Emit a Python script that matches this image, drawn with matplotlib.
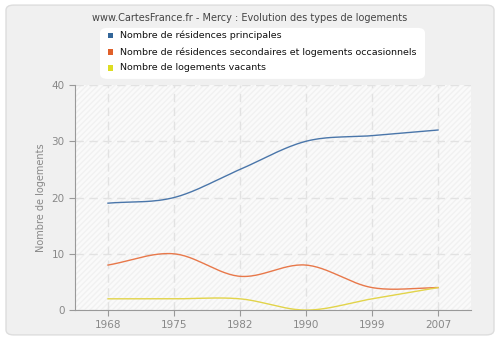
import numpy as np
import matplotlib
matplotlib.use("Agg")
from matplotlib import pyplot as plt
from matplotlib.patches import FancyBboxPatch, Rectangle

years = ['1968', '1975', '1982', '1990', '1999', '2007']
principales = [19, 20, 25, 30, 31, 32]
secondaires = [8, 10, 6, 8, 4, 4]
vacants = [2, 2, 2, 0, 2, 4]

labels = ['Nombre de résidences principales',
          'Nombre de résidences secondaires et logements occasionnels',
          'Nombre de logements vacants']
line_colors = ['#4a76aa', '#e8784a', '#e2d44a']
box_colors = ['#336699', '#e0602a', '#dddd22']


def smooth(vals, n=30):
    # catmull-rom style curve through the points (categorical x)
    y = np.array(vals, dtype=float)
    m = np.zeros_like(y)
    m[1:-1] = (y[2:] - y[:-2]) / 2
    m[0] = (y[1] - y[0])
    m[-1] = (y[-1] - y[-2])
    xs, ys = [], []
    for i in range(len(y) - 1):
        t = np.linspace(0, 1, n)
        h00 = 2*t**3 - 3*t**2 + 1
        h10 = t**3 - 2*t**2 + t
        h01 = -2*t**3 + 3*t**2
        h11 = t**3 - t**2
        xs.append(i + t)
        ys.append(h00*y[i] + h10*m[i] + h01*y[i+1] + h11*m[i+1])
    return np.concatenate(xs), np.concatenate(ys)


fig = plt.figure(figsize=(5, 3.4), dpi=100)
fig.patch.set_facecolor('#ffffff')
bg = FancyBboxPatch((0.012, 0.015), 0.976, 0.97, boxstyle='round,pad=0,rounding_size=0.015',
                    transform=fig.transFigure, facecolor='#f0f0f0', edgecolor='#dddddd', lw=1, zorder=-5)
fig.patches.append(bg)

ax = fig.add_axes([0.15, 0.088, 0.792, 0.662])
ax.set_facecolor('#fafafa')
ax.add_patch(Rectangle((0, 0), 1, 1, transform=ax.transAxes, facecolor='none',
                       edgecolor='#f1f1f1', hatch='//////', lw=0, zorder=0))

for vals, c in zip([principales, secondaires, vacants], line_colors):
    sx, sy = smooth(vals)
    ax.plot(sx, sy, color=c, lw=1, zorder=3)

ax.set_xlim(-0.5, 5.5)
ax.set_ylim(0, 40)
ax.set_xticks(range(len(years)))
ax.set_xticklabels(years)
ax.set_yticks([0, 10, 20, 30, 40])
ax.grid(True, color='#e2e2e2', ls=(0, (6, 4)), lw=1)
ax.set_axisbelow(True)
for s in ['top', 'right']:
    ax.spines[s].set_visible(False)
for s in ['left', 'bottom']:
    ax.spines[s].set_color('#999999')
ax.tick_params(colors='#999999', labelcolor='#888888', labelsize=7.5, length=4)
ax.set_ylabel('Nombre de logements', color='#888888', fontsize=7)

fig.text(0.5, 0.948, 'www.CartesFrance.fr - Mercy : Evolution des types de logements',
         ha='center', va='center', fontsize=7, color='#444444')

fig.patches.append(FancyBboxPatch((0.2, 0.768), 0.65, 0.15, boxstyle='round,pad=0,rounding_size=0.015',
                                  transform=fig.transFigure, facecolor='white', edgecolor='none'))
for i, (lab, c) in enumerate(zip(labels, box_colors)):
    yy = 0.895 - i * 0.0475
    fig.patches.append(Rectangle((0.215, yy - 0.008), 0.011, 0.016, transform=fig.transFigure,
                                 facecolor=c, edgecolor='none'))
    fig.text(0.24, yy, lab, ha='left', va='center', fontsize=6.8, color='#111111')

fig.savefig('out.png', dpi=100)
